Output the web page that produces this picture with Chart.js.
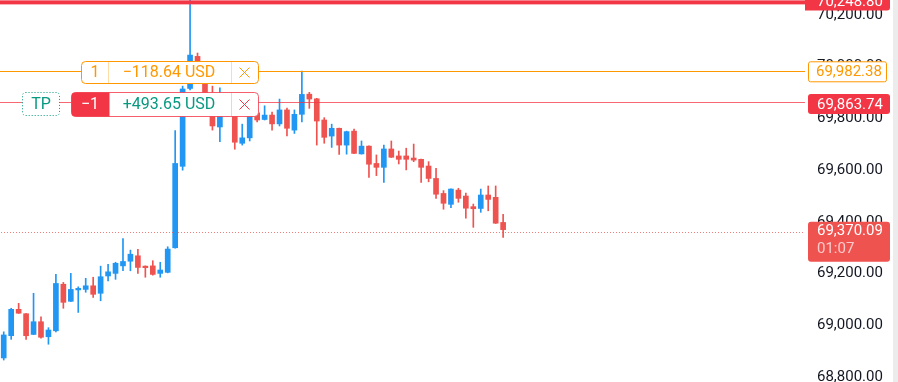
<!DOCTYPE html>
<html>
<head>
<meta charset="utf-8">
<script src="https://cdn.jsdelivr.net/npm/chart.js@4"></script>
<style>
  html, body { margin: 0; padding: 0; background: #ffffff; }
  #wrap { width: 898px; height: 382px; position: relative; }
</style>
</head>
<body>
<div id="wrap"><canvas id="chart"></canvas></div>
<script>
/* --------------- Candles (OHLC, USD) --------------------- */
const opens = [
  68874, 68960, 69062, 69045, 68965, 69014, 68956, 68979, 69159, 69093,
  69137, 69139, 69153, 69124, 69191, 69201, 69230, 69248, 69269, 69229,
  69230, 69201, 69205, 69300, 69615, 69916, 70040, 69968, 69852, 69767,
  69833, 69840, 69704, 69725, 69822, 69796, 69813, 69779, 69833, 69755,
  69816, 69894, 69876, 69794, 69732, 69762, 69697, 69751, 69663, 69693,
  69626, 69611, 69682, 69655, 69655, 69647, 69642, 69616, 69568, 69510,
  69468, 69523, 69500, 69459, 69452, 69504, 69495, 69398,
];
const highs = [
  68975, 69066, 69085, 69046, 69124, 69033, 68991, 69197, 69166, 69201,
  69149, 69182, 69186, 69229, 69236, 69244, 69336, 69291, 69294, 69230,
  69250, 69244, 69304, 69753, 69925, 70290, 70053, 69980, 69925, 69918,
  69890, 69871, 69778, 69840, 69890, 69849, 69825, 69875, 69840, 69833,
  69983, 69901, 69878, 69803, 69778, 69763, 69751, 69759, 69713, 69694,
  69659, 69697, 69713, 69674, 69685, 69701, 69643, 69633, 69607, 69521,
  69528, 69530, 69511, 69469, 69527, 69539, 69539, 69429,
];
const lows = [
  68866, 68946, 69046, 68946, 68964, 68950, 68927, 68975, 69066, 69092,
  69050, 69128, 69108, 69095, 69172, 69178, 69211, 69211, 69201, 69186,
  69194, 69186, 69203, 69298, 69600, 69910, 69948, 69840, 69755, 69710,
  69809, 69681, 69697, 69713, 69787, 69794, 69755, 69771, 69732, 69742,
  69787, 69839, 69697, 69704, 69688, 69661, 69662, 69664, 69662, 69572,
  69579, 69553, 69649, 69624, 69601, 69633, 69553, 69555, 69491, 69449,
  69455, 69476, 69414, 69379, 69437, 69443, 69394, 69340,
];
const closes = [
  68963, 69062, 69047, 68960, 69014, 68954, 68982, 69162, 69089, 69139,
  69143, 69153, 69120, 69188, 69207, 69240, 69247, 69275, 69224, 69223,
  69197, 69214, 69295, 69626, 69914, 70045, 69968, 69852, 69771, 69833,
  69825, 69708, 69725, 69825, 69794, 69813, 69779, 69833, 69762, 69816,
  69893, 69875, 69790, 69727, 69762, 69697, 69749, 69665, 69693, 69623,
  69611, 69682, 69650, 69642, 69642, 69639, 69611, 69568, 69507, 69472,
  69527, 69491, 69453, 69451, 69504, 69487, 69395, 69370.09,
];
const totalSlots = 108; // candles + empty space on the right

/* --------------- Axis ticks --------------------- */
const yTicks = [68800, 69000, 69200, 69400, 69600, 69800, 70000, 70200];
const yMin = 68781;
const yMax = 70258;

/* --------------- Price levels --------------------- */
const alertLevel = 70248.8;
const entryLevel = 69982.38;
const tpLevel = 69863.74;
const lastPrice = 69370.09;
const countdown = "01:07";
const entryQty = "1";
const entryPnl = "\u2212118.64 USD";
const tpQty = "\u22121";
const tpPnl = "+493.65 USD";

/* --------------- Colors --------------------- */
const UP = "#2196F3";
const DOWN = "#EF5350";
const RED = "#F23645";
const ORANGE = "#FF9800";
const GREEN = "#089981";

const fmt = (v) =>
  v.toLocaleString("en-US", { minimumFractionDigits: 2, maximumFractionDigits: 2 });

const candleColors = opens.map((o, i) => (closes[i] >= o ? UP : DOWN));
const labels = Array.from({ length: totalSlots }, (_, i) => String(i));

/* --------------- Overlay: lines, order labels, axis price tags --------------------- */
const overlay = {
  id: "overlay",
  afterDatasetsDraw(chart) {
    const { ctx, chartArea: a } = chart;
    const y = chart.scales.y;
    ctx.save();
    // alert line (thick)
    ctx.fillStyle = RED;
    const ay = y.getPixelForValue(alertLevel);
    ctx.fillRect(a.left, ay - 2, a.right - a.left, 4);
    // entry line
    ctx.fillStyle = ORANGE;
    ctx.fillRect(a.left, Math.round(y.getPixelForValue(entryLevel)), a.right - a.left, 1);
    // tp line
    ctx.fillStyle = "rgba(242,54,69,0.75)";
    ctx.fillRect(a.left, Math.round(y.getPixelForValue(tpLevel)), a.right - a.left, 1);
    // last price dotted
    ctx.fillStyle = "rgba(239,83,80,0.75)";
    const ly = Math.round(y.getPixelForValue(lastPrice)) + 2;
    for (let x = a.left + 1; x < a.right; x += 3) {
      ctx.fillRect(x, ly, 1, 1);
    }
    ctx.restore();
  },
  afterDraw(chart) {
    const { ctx, chartArea: a } = chart;
    const y = chart.scales.y;
    ctx.save();
    ctx.font = "16px Roboto";
    ctx.textBaseline = "middle";

    const cross = (cx, cy, color) => {
      ctx.strokeStyle = color;
      ctx.lineWidth = 1;
      ctx.beginPath();
      ctx.moveTo(cx - 5, cy - 5);
      ctx.lineTo(cx + 5, cy + 5);
      ctx.moveTo(cx + 5, cy - 5);
      ctx.lineTo(cx - 5, cy + 5);
      ctx.stroke();
    };

    // ---- entry order label (orange)
    const ey = Math.round(y.getPixelForValue(entryLevel)) + 1;
    ctx.fillStyle = "#ffffff";
    ctx.strokeStyle = ORANGE;
    ctx.beginPath();
    ctx.roundRect(81.5, ey - 10.5, 177, 22, 4);
    ctx.fill();
    ctx.stroke();
    ctx.fillStyle = "rgba(255,152,0,0.35)";
    ctx.fillRect(108, ey - 10, 1, 21);
    ctx.fillRect(231, ey - 10, 1, 21);
    ctx.fillStyle = ORANGE;
    ctx.textAlign = "center";
    ctx.fillText(entryQty, 95, ey + 1);
    ctx.fillText(entryPnl, 169, ey + 1);
    cross(244.5, ey + 0.5, ORANGE);

    // ---- take profit label (red / green)
    const ty = Math.round(y.getPixelForValue(tpLevel)) + 2;
    ctx.fillStyle = "#ffffff";
    ctx.strokeStyle = "rgba(242,54,69,0.8)";
    ctx.beginPath();
    ctx.roundRect(71.5, ty - 11.5, 187, 24, 4);
    ctx.fill();
    ctx.stroke();
    ctx.fillStyle = RED;
    ctx.beginPath();
    ctx.roundRect(71.5, ty - 11.5, 38, 24, [4, 0, 0, 4]);
    ctx.fill();
    ctx.fillStyle = "rgba(242,54,69,0.25)";
    ctx.fillRect(231, ty - 11, 1, 23);
    ctx.fillStyle = "#ffffff";
    ctx.fillText(tpQty, 90, ty + 1);
    ctx.fillStyle = GREEN;
    ctx.fillText(tpPnl, 169, ty + 1);
    cross(244.5, ty + 0.5, RED);

    // TP tag
    ctx.fillStyle = "#ffffff";
    ctx.strokeStyle = GREEN;
    ctx.setLineDash([1, 2]);
    ctx.beginPath();
    ctx.roundRect(22.5, ty - 11.5, 37, 23, 3);
    ctx.fill();
    ctx.stroke();
    ctx.setLineDash([]);
    ctx.fillStyle = GREEN;
    ctx.fillText("TP", 41, ty + 1);

    // ---- price tags on the axis
    ctx.font = "15px Roboto";
    ctx.textAlign = "left";
    const tx = a.right + 3;
    const ay = y.getPixelForValue(alertLevel);
    ctx.fillStyle = RED;
    ctx.beginPath();
    ctx.roundRect(a.right, ay - 12, 85, 20, [0, 3, 3, 0]);
    ctx.fill();
    ctx.fillStyle = "#ffffff";
    ctx.fillText(fmt(alertLevel), 817, ay);

    const ey2 = y.getPixelForValue(entryLevel);
    ctx.fillStyle = "#ffffff";
    ctx.strokeStyle = ORANGE;
    ctx.beginPath();
    ctx.roundRect(tx + 0.5, ey2 - 9.5, 78, 20, 2);
    ctx.fill();
    ctx.stroke();
    ctx.fillStyle = ORANGE;
    ctx.fillText(fmt(entryLevel), 816, ey2 + 1);

    const ty2 = y.getPixelForValue(tpLevel) + 2;
    ctx.fillStyle = RED;
    ctx.beginPath();
    ctx.roundRect(tx, ty2 - 10, 82, 20, 3);
    ctx.fill();
    ctx.fillStyle = "#ffffff";
    ctx.fillText(fmt(tpLevel), 817, ty2 + 1);

    const py = y.getPixelForValue(lastPrice);
    ctx.fillStyle = DOWN;
    ctx.beginPath();
    ctx.roundRect(tx, py - 8, 82, 40, 3);
    ctx.fill();
    ctx.fillStyle = "#ffffff";
    ctx.fillText(fmt(lastPrice), 817, py + 2);
    ctx.fillStyle = "rgba(255,255,255,0.7)";
    ctx.fillText(countdown, 817, py + 20);

    // scrollbar strip
    ctx.fillStyle = "#ececec";
    ctx.fillRect(893, 0, 5, chart.height);
    ctx.restore();
  },
};

/* --------------- Chart --------------------- */
const chart = new Chart(document.getElementById("chart"), {
  type: "bar",
  plugins: [overlay],
  data: {
    labels: labels,
    datasets: [
      {
        label: "body",
        data: opens.map((o, i) => [o, closes[i]]),
        backgroundColor: candleColors,
        barThickness: 5,
        minBarLength: 1.5,
        grouped: false,
      },
      {
        label: "wick",
        data: lows.map((l, i) => [l, highs[i]]),
        backgroundColor: candleColors,
        barThickness: 1,
        grouped: false,
      },
    ],
  },
  options: {
    responsive: true,
    maintainAspectRatio: false,
    animation: false,
    layout: { padding: 0 },
    plugins: { legend: { display: false }, tooltip: { enabled: false } },
    scales: {
      x: { display: false },
      y: {
        position: "right",
        min: yMin,
        max: yMax,
        grid: { display: false, drawTicks: false },
        border: { display: false },
        afterBuildTicks: (scale) => {
          scale.ticks = yTicks.map((v) => ({ value: v }));
        },
        afterFit: (scale) => {
          scale.width = 93;
          scale.paddingTop = 0;
          scale.paddingBottom = 0;
        },
        ticks: {
          padding: 12,
          color: "#131722",
          font: { family: "Roboto", size: 15 },
          callback: (v) => fmt(v),
        },
      },
    },
  },
});
</script>
</body>
</html>
